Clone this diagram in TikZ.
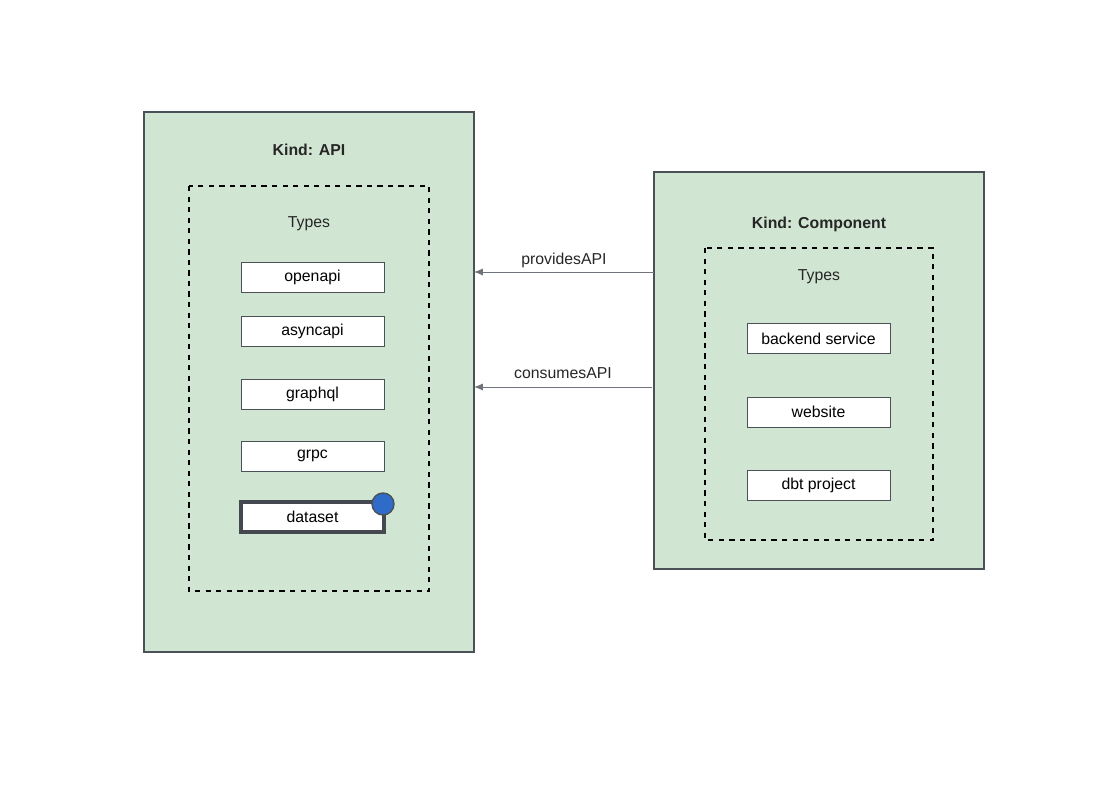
\documentclass[tikz,border=0pt]{standalone}
\usepackage{fontspec}
\setmainfont{Liberation Sans}
\usetikzlibrary{positioning,arrows.meta}
\definecolor{kindfill}{HTML}{D0E5D2}
\definecolor{kindline}{HTML}{4A5157}
\definecolor{dotblue}{HTML}{2F6CC9}
\tikzset{
    kind/.style={draw=kindline,fill=kindfill,line width=0.8pt},
    types/.style={draw=black,dashed,line width=0.7pt},
    item/.style={draw=kindline,fill=white,minimum width=143*0.02cm,minimum height=30*0.02cm,inner sep=0pt,font=\fontsize{9}{10}\selectfont},
    label/.style={font=\fontsize{9}{10}\selectfont,text=black!85},
    rel/.style={draw=kindline!80,line width=0.5pt,-{Latex[length=5pt,width=4pt]}}
}
\begin{document}
\begin{tikzpicture}[x=0.02cm,y=-0.02cm]
    \useasboundingbox (0,0) rectangle (1100,794);

    % Kind: API
    \draw [kind] (144,112) rectangle (474,652);
    \draw [types] (189,186) rectangle (429,591);
    \node (apititle) [label,font=\fontsize{9}{10}\selectfont\bfseries] at (309,150) {Kind: API};
    \node (apitypes) [label] at (309,224) {Types};
    \node (openapi) [item] at (312.5,277) {openapi};
    \node (asyncapi) [item] at (312.5,331) {asyncapi};
    \node (graphql) [item] at (312.5,394) {graphql};
    \node (grpc) [item] at (312.5,456) {grpc};
    \node (dataset) [item,line width=2pt,draw=kindline!90!black] at (312.5,517) {dataset};
    \draw [fill=dotblue,draw=kindline,line width=0.8pt] (383,504) circle [radius=11];

    % Kind: Component
    \draw [kind] (654,172) rectangle (984,569);
    \draw [types] (705,248) rectangle (933,540);
    \node (comptitle) [label,font=\fontsize{9}{10}\selectfont\bfseries] at (819,224) {Kind: Component};
    \node (comptypes) [label] at (819,277) {Types};
    \node (backend) [item] at (818.5,338.5) {backend service};
    \node (website) [item] at (818.5,412) {website};
    \node (dbt) [item] at (818.5,485.5) {dbt project};

    % Relations
    \coordinate (provfrom) at (654,272);
    \coordinate (provto) at (474,272);
    \coordinate (consfrom) at (652,387);
    \coordinate (consto) at (474,387);
    \draw [rel] (provfrom) to node [label,above,yshift=-1pt] {providesAPI} (provto);
    \draw [rel] (consfrom) to node [label,above,yshift=1pt] {consumesAPI} (consto);
\end{tikzpicture}
\end{document}
